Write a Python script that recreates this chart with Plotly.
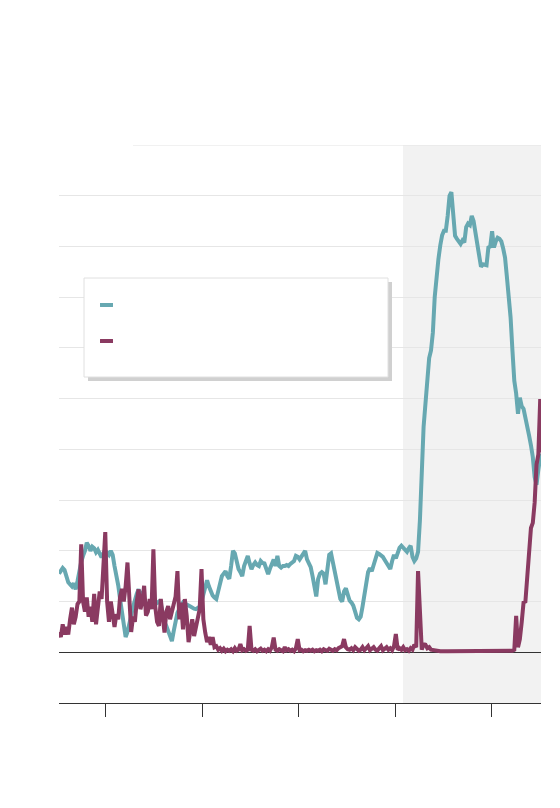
import pandas as pd
import plotly.graph_objects as go

# Weekly observations
dates = pd.date_range("2016-07-09", periods=262, freq="7D")

series_a = [
    1.55,1.62,1.66,1.62,1.5,1.38,1.34,1.3,1.36,1.24,
    1.4,1.65,1.78,1.9,2.0,2.16,2.1,2.0,2.08,2.05,
    1.97,2.02,1.95,1.87,1.95,1.9,1.96,1.92,2.0,1.92,
    1.7,1.55,1.32,1.05,0.75,0.5,0.3,0.4,0.62,0.72,
    0.9,1.05,1.15,1.24,1.12,1.2,1.05,0.92,0.95,0.9,
    0.95,0.92,0.95,0.97,1.0,0.95,0.75,0.6,0.52,0.42,
    0.32,0.22,0.42,0.65,0.78,0.85,0.92,0.98,0.96,0.95,
    0.92,0.9,0.87,0.86,0.85,0.87,0.9,1.0,1.15,1.35,
    1.42,1.3,1.18,1.12,1.08,1.05,1.2,1.38,1.5,1.55,
    1.6,1.5,1.45,1.7,2.0,1.95,1.77,1.64,1.58,1.5,
    1.7,1.8,1.9,1.75,1.64,1.72,1.77,1.72,1.7,1.8,
    1.76,1.75,1.64,1.54,1.65,1.77,1.83,1.7,1.9,1.7,
    1.67,1.7,1.7,1.72,1.7,1.74,1.76,1.8,1.9,1.88,
    1.83,1.9,1.95,2.0,1.83,1.75,1.68,1.5,1.25,1.1,
    1.44,1.55,1.58,1.55,1.34,1.6,1.92,1.95,1.75,1.6,
    1.45,1.25,1.05,1.0,1.2,1.26,1.15,1.02,0.98,0.92,
    0.8,0.68,0.65,0.7,0.9,1.15,1.42,1.58,1.66,1.6,
    1.72,1.88,1.96,1.94,1.92,1.88,1.82,1.76,1.7,1.64,
    1.8,1.92,1.85,1.95,2.06,2.1,2.05,2.0,1.98,2.05,
    2.1,1.88,1.8,1.85,1.98,2.6,3.61,4.45,4.9,5.5,
    5.8,5.95,6.3,7.0,7.45,7.75,8.02,8.22,8.31,8.31,
    8.6,9.0,9.07,8.55,8.21,8.15,8.1,8.05,8.12,8.08,
    8.38,8.45,8.42,8.6,8.5,8.25,8.05,7.82,7.6,7.65,
    7.64,7.63,7.98,8.0,8.3,7.98,8.1,8.17,8.15,8.1,
    7.96,7.78,7.4,7.0,6.6,5.95,5.35,5.1,4.7,5.02,
    4.85,4.8,4.65,4.48,4.27,4.08,3.85,3.45,3.3,3.6,
    3.85,3.9,
]

series_b = [
    0.4,0.3,0.55,0.35,0.5,0.35,0.65,0.88,0.55,0.7,
    0.95,1.0,2.13,1.0,0.8,1.08,0.7,0.9,0.6,1.15,
    0.55,0.9,1.2,1.05,1.6,2.37,1.0,0.6,1.0,0.7,
    0.5,0.75,0.65,1.1,1.25,1.0,1.3,1.77,1.1,0.4,
    0.7,0.6,1.0,1.24,0.85,1.0,1.31,0.72,0.8,1.05,
    0.85,2.03,0.9,0.6,0.52,1.05,0.72,0.39,0.8,0.91,
    0.65,0.8,0.98,1.1,1.6,0.65,0.98,0.45,1.05,0.72,
    0.2,0.45,0.65,0.32,0.5,0.7,0.85,1.64,0.65,0.39,
    0.2,0.3,0.15,0.3,0.1,0.12,0.05,0.08,0.03,0.07,
    0.02,0.05,0.03,0.06,0.02,0.08,0.03,0.05,0.16,0.04,
    0.06,0.03,0.05,0.52,0.05,0.03,0.06,0.02,0.04,0.07,
    0.03,0.05,0.02,0.06,0.03,0.1,0.29,0.05,0.03,0.06,
    0.04,0.02,0.1,0.04,0.06,0.03,0.05,0.02,0.08,0.26,
    0.04,0.05,0.02,0.04,0.03,0.05,0.03,0.05,0.02,0.04,
    0.03,0.05,0.02,0.06,0.04,0.03,0.07,0.05,0.03,0.06,
    0.04,0.08,0.1,0.12,0.26,0.1,0.06,0.05,0.08,0.04,
    0.1,0.06,0.03,0.05,0.1,0.04,0.08,0.12,0.04,0.06,
    0.1,0.05,0.03,0.08,0.12,0.04,0.06,0.1,0.05,0.08,
    0.04,0.12,0.36,0.05,0.08,0.05,0.1,0.04,0.06,0.03,
    0.08,0.05,0.15,0.1,1.6,0.8,0.05,0.16,0.15,0.08,
    0.1,0.05,0.04,0.03,0.02,0.03,0.02,0.02,0.03,0.02,
    0.02,0.02,0.03,0.02,0.02,0.02,0.03,0.02,0.02,0.02,
    0.02,0.03,0.02,0.02,0.02,0.02,0.03,0.02,0.02,0.03,
    0.02,0.02,0.02,0.03,0.02,0.02,0.02,0.02,0.03,0.02,
    0.02,0.02,0.03,0.02,0.02,0.03,0.05,0.72,0.1,0.26,
    0.59,0.98,1.0,1.5,2.1,2.45,2.55,2.95,3.7,3.9,
    4.99,3.94,
]

x_ticks = ["2017-01-01", "2018-01-01", "2019-01-01", "2020-01-01", "2021-01-01"]
y_grid = [1, 2, 3, 4, 5, 6, 7, 8, 9]
shade_start = "2020-01-31"
x_range = ["2016-07-09", "2021-07-06"]
y_range = [-1, 10]

TEAL = "#67a8b1"
MAROON = "#8a3a61"

fig = go.Figure()
fig.add_trace(go.Scatter(x=dates, y=series_a, mode="lines",
                         line=dict(color=TEAL, width=4), showlegend=False,
                         hoverinfo="skip"))
fig.add_trace(go.Scatter(x=dates, y=series_b, mode="lines",
                         line=dict(color=MAROON, width=4), showlegend=False,
                         hoverinfo="skip"))

shapes = [
    # shaded period
    dict(type="rect", xref="x", yref="paper", x0=shade_start, x1=x_range[1],
         y0=0, y1=1, fillcolor="#f2f2f2", line_width=0, layer="below"),
    # top gridline
    dict(type="line", xref="paper", yref="y", x0=0.1535, x1=1, y0=10, y1=10,
         line=dict(color="#e3e3e3", width=1.2), layer="below"),
    # legend shadow
    dict(type="rect", xref="paper", yref="paper", x0=0.0602, x1=0.6909,
         y0=0.5771, y1=0.7545, fillcolor="#d0d0d0", line_width=0),
    # legend box
    dict(type="rect", xref="paper", yref="paper", x0=0.0519, x1=0.6826,
         y0=0.5842, y1=0.7616, fillcolor="white",
         line=dict(color="#e0e0e0", width=1)),
    # legend swatches
    dict(type="line", xref="paper", yref="paper", x0=0.0851, x1=0.112,
         y0=0.7133, y1=0.7133, line=dict(color=TEAL, width=4)),
    dict(type="line", xref="paper", yref="paper", x0=0.0851, x1=0.112,
         y0=0.6487, y1=0.6487, line=dict(color=MAROON, width=4)),
]

fig.update_layout(
    width=560, height=808,
    margin=dict(l=51, r=27, t=137, b=113),
    paper_bgcolor="white", plot_bgcolor="white",
    shapes=shapes,
    showlegend=False,
    xaxis=dict(range=x_range, tickvals=x_ticks, showticklabels=False,
               showgrid=False, zeroline=False, showline=True,
               linecolor="#333333", linewidth=1, ticks="outside",
               ticklen=13, tickcolor="#333333", tickwidth=1),
    yaxis=dict(range=y_range, tickvals=y_grid, showticklabels=False,
               showgrid=True, gridcolor="#e6e6e6", gridwidth=1,
               zeroline=True, zerolinecolor="#333333", zerolinewidth=1,
               showline=False, ticks=""),
)

fig.write_html("out.html")
